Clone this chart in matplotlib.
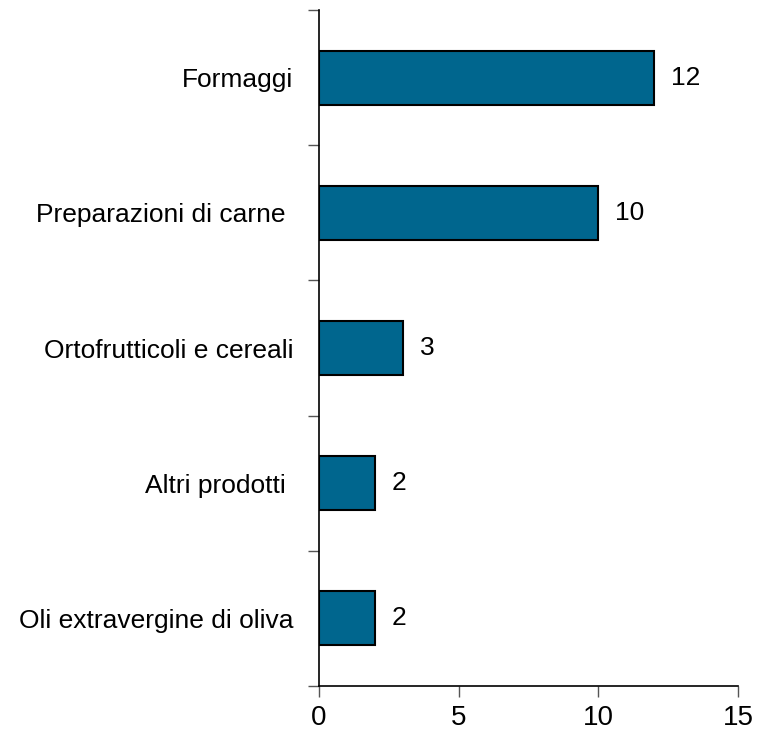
import matplotlib
matplotlib.use("Agg")
import matplotlib.pyplot as plt
import numpy as np

categories = ["Formaggi", "Preparazioni di carne ", "Ortofrutticoli e cereali", "Altri prodotti ", "Oli extravergine di oliva"]
values = [12, 10, 3, 2, 2]
xticks = [0, 5, 10, 15]

plt.rcParams['font.family'] = ['Liberation Sans', 'DejaVu Sans']

fig = plt.figure(figsize=(7.6, 7.3), dpi=100)
ax = fig.add_axes([319/760, 1-686/730, (738-319)/760, (686-10)/730])

n = len(categories)
pos = np.arange(n)[::-1]
ax.barh(pos, values, height=0.4, color="#00668e", edgecolor="black", linewidth=1.5)
for p, v in zip(pos, values):
    ax.text(v + 0.6, p, str(v), va="center", ha="left", fontsize=19)

ax.set_ylim(-0.5, n - 0.5)
ax.set_xlim(0, 15)
ax.set_xticks(xticks)
ax.set_xticklabels([str(t) for t in xticks], fontsize=20)
ax.set_yticks(np.arange(n + 1) - 0.5)
ax.set_yticklabels([])
ax.set_yticks(pos, minor=True)
ax.set_yticklabels(categories, minor=True, fontsize=19)
ax.tick_params(axis="y", which="minor", length=0, pad=18.5)
ax.tick_params(axis="y", which="major", length=8, width=1, color="#555555", direction="out")
ax.tick_params(axis="x", which="major", length=8, width=1, color="#555555", direction="out", pad=6)
for s in ["top", "right"]:
    ax.spines[s].set_visible(False)
for s in ["left", "bottom"]:
    ax.spines[s].set_linewidth(1.2)

fig.savefig("out.png", dpi=100)
